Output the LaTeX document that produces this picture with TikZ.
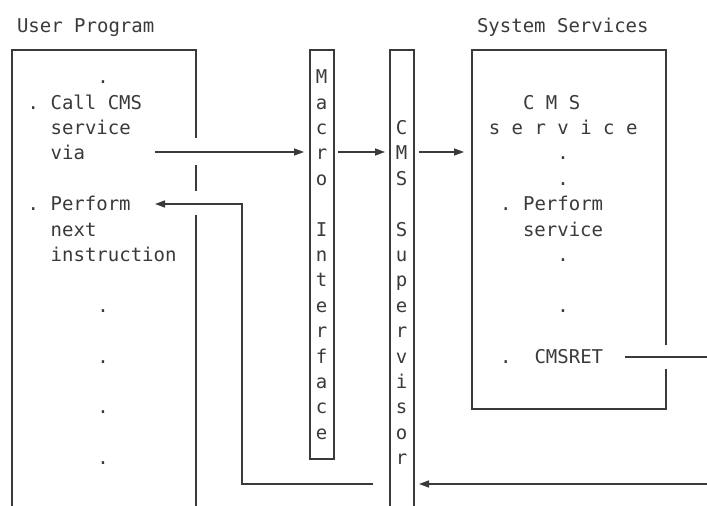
\documentclass[tikz,border=0pt]{standalone}
\usepackage{fontspec}
\setmonofont{DejaVu Sans Mono}
\usetikzlibrary{arrows.meta}
\definecolor{ink}{HTML}{3A3A3A}
\tikzset{
  txt/.style={inner sep=0pt, anchor=base west, text=ink, font=\ttfamily\fontsize{19}{25}\selectfont},
  chr/.style={inner sep=0pt, anchor=base, text=ink, font=\ttfamily\fontsize{19}{25}\selectfont},
  frame/.style={draw=ink, line width=1.4pt},
  conn/.style={draw=ink, line width=1.4pt},
  arr/.style={conn, -{Triangle[length=10pt,width=7pt]}}
}
\begin{document}
\begin{tikzpicture}[x=1pt,y=-1pt]
\useasboundingbox (0,0) rectangle (707,506);
% line baselines: 109 + 25.4 n
% titles
\node[txt] (tuser) at (16.8,32) {User Program};
\node[txt] (tsys) at (476.8,32) {System Services};
% user program box (open at bottom, gaps for connectors)
\draw[frame] (196,138) -- (196,50) -- (12,50) -- (12,510);
\draw[frame] (196,165) -- (196,191);
\draw[frame] (196,215) -- (196,510);
% user program text
\node[chr] (u0) at (103,83.6) {.};
\node[txt] (u1) at (27.5,109) {. Call CMS};
\node[txt] (u2) at (50.5,134.4) {service};
\node[txt] (u3) at (50.5,159.8) {via};
\node[txt] (u4) at (27.5,210.6) {. Perform};
\node[txt] (u5) at (50.5,236) {next};
\node[txt] (u6) at (50.5,261.4) {instruction};
\node[chr] (u7) at (103,312.2) {.};
\node[chr] (u8) at (103,363) {.};
\node[chr] (u9) at (103,413.8) {.};
\node[chr] (u10) at (103,464.6) {.};
% macro interface box
\draw[frame] (310,50) rectangle (334,459);
\foreach \ch [count=\i from -1] in {M,a,c,r,o,{},I,n,t,e,r,f,a,c,e}
  \node[chr] (m\i) at (321.7,109+25.4*\i) {\ch};
% CMS supervisor box (open at bottom)
\draw[frame] (390,510) -- (390,50) -- (414,50) -- (414,510);
\foreach \ch [count=\i from 1] in {C,M,S,{},S,u,p,e,r,v,i,s,o,r}
  \node[chr] (s\i) at (401.7,109+25.4*\i) {\ch};
% system services box
\draw[frame] (666,345) -- (666,50) -- (472,50) -- (472,409) -- (666,409) -- (666,369);
\node[txt] (c0) at (522.8,109) {C M S};
\node[txt] (c1) at (488.6,134.4) {s e r v i c e};
\node[chr] (c2) at (563,159.8) {.};
\node[chr] (c3) at (563,185.2) {.};
\node[txt] (c4) at (500,210.6) {. Perform};
\node[txt] (c5) at (522.8,236) {service};
\node[chr] (c6) at (563,261.4) {.};
\node[chr] (c7) at (563,312.2) {.};
\node[txt] (c8) at (500,363) {.~~CMSRET};
% connector points
\coordinate (viaS) at (155,152);
\coordinate (macIn) at (304,152);
\coordinate (macOut) at (338,152);
\coordinate (supIn) at (385,152);
\coordinate (supOut) at (419,152);
\coordinate (sysIn) at (464,152);
\coordinate (retS) at (625,357);
\coordinate (retE) at (707,357);
\coordinate (botS) at (707,484);
\coordinate (botE) at (419,484);
\coordinate (back0) at (373,484);
\coordinate (back1) at (242,484);
\coordinate (back2) at (242,204);
\coordinate (perf) at (155,204);
% connectors
\draw[arr] (viaS) -- (macIn);
\draw[arr] (macOut) -- (supIn);
\draw[arr] (supOut) -- (sysIn);
\draw[conn] (retS) -- (retE);
\draw[arr] (botS) -- (botE);
\draw[arr] (back0) -- (back1) -- (back2) -- (perf);
\end{tikzpicture}
\end{document}
